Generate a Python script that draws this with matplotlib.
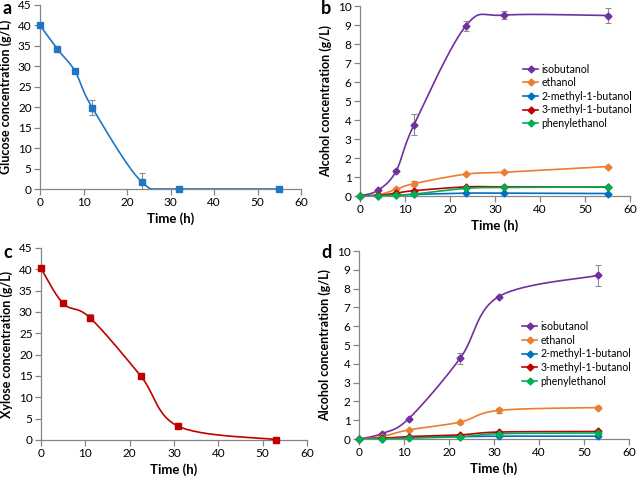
import numpy as np
import matplotlib
matplotlib.use("Agg")
import matplotlib.pyplot as plt
from matplotlib.lines import Line2D

plt.rcParams["font.family"] = ["Lato", "DejaVu Sans"]

# panel a: glucose
t_a = [0, 4, 8, 12, 23.5, 32, 55]
glucose = [40, 34.2, 28.9, 19.9, 1.6, 0, 0]
glucose_err = [0, 0, 0, 1.9, 2.2, 0, 0]

# panel b: alcohols (glucose)
iso_b = [0, 0.3, 1.3, 3.75, 8.95, 9.52, 9.5]
iso_b_err = [0, 0.05, 0.05, 0.55, 0.25, 0.2, 0.42]
eth_b = [0, 0.05, 0.35, 0.65, 1.15, 1.25, 1.55]
eth_b_err = [0, 0, 0.05, 0.12, 0.05, 0.05, 0.05]
m2_b = [0, 0.02, 0.05, 0.08, 0.15, 0.15, 0.13]
m3_b = [0, 0.03, 0.15, 0.28, 0.48, 0.48, 0.47]
phe_b = [0, 0.01, 0.05, 0.1, 0.4, 0.45, 0.48]

# panel c: xylose
t_c = [0, 5, 11, 22.5, 31, 53]
xylose = [40.2, 32, 28.7, 15, 3.2, 0.1]
xylose_err = [0.5, 0.3, 0.8, 0.5, 0.3, 0.2]

# panel d: alcohols (xylose)
iso_d = [0, 0.28, 1.07, 4.3, 7.57, 8.7]
iso_d_err = [0, 0.05, 0.05, 0.3, 0.05, 0.55]
eth_d = [0, 0.12, 0.48, 0.9, 1.52, 1.67]
eth_d_err = [0, 0, 0.05, 0.08, 0.12, 0.08]
m2_d = [0, 0.02, 0.08, 0.12, 0.15, 0.15]
m3_d = [0, 0.04, 0.13, 0.22, 0.37, 0.4]
phe_d = [0, 0.01, 0.05, 0.12, 0.28, 0.32]

names = ["isobutanol", "ethanol", "2-methyl-1-butanol", "3-methyl-1-butanol", "phenylethanol"]
colors = ["#7030A0", "#ED7D31", "#0070C0", "#C00000", "#00B050"]


def smooth(x, y, n=30):
    # Catmull-Rom style smoothing, like a spreadsheet "smoothed line"
    p = np.column_stack([x, y]).astype(float)
    p = np.vstack([p[0], p, p[-1]])
    out = []
    for i in range(1, len(p) - 2):
        p0, p1, p2, p3 = p[i - 1], p[i], p[i + 1], p[i + 2]
        c1 = p1 + (p2 - p0) / 6
        c2 = p2 - (p3 - p1) / 6
        s = np.linspace(0, 1, n)[:, None]
        seg = ((1 - s) ** 3) * p1 + 3 * ((1 - s) ** 2) * s * c1 + 3 * (1 - s) * s ** 2 * c2 + s ** 3 * p2
        out.append(seg)
    out = np.vstack(out)
    return out[:, 0], out[:, 1]


def style(ax, ymax, ystep, ylabel):
    ax.set_xlim(0, 60)
    ax.set_ylim(0, ymax)
    ax.set_xticks(np.arange(0, 61, 10))
    ax.set_yticks(np.arange(0, ymax + 0.01, ystep))
    for s in ["top", "right"]:
        ax.spines[s].set_visible(False)
    for s in ["left", "bottom"]:
        ax.spines[s].set_color("#868686")
        ax.spines[s].set_linewidth(0.9)
    ax.tick_params(direction="out", length=4, width=0.9, color="#868686",
                   labelsize=8.5, pad=2)
    ax.set_xlabel("Time (h)", fontsize=9.5, fontweight="bold", labelpad=3)
    ax.set_ylabel(ylabel, fontsize=9, fontweight="bold", labelpad=4)


def series(ax, t, y, err, color, marker, ms, clip=False):
    sx, sy = smooth(t, y)
    if clip:
        sy = np.clip(sy, 0, None)
    ax.plot(sx, sy, color=color, lw=1.2, zorder=3)
    ax.plot(t, y, ls="none", marker=marker, color=color, ms=ms, zorder=4, clip_on=False)
    if err is not None:
        ax.errorbar(t, y, yerr=err, fmt="none", ecolor="#8c8c8c", elinewidth=0.8,
                    capsize=2, capthick=0.8, zorder=2)


fig = plt.figure(figsize=(6.37, 4.79), dpi=100)
W, H = 637, 479


def add_ax(l, r, t, b):
    return fig.add_axes([l / W, 1 - b / H, (r - l) / W, (b - t) / H])


def letter(x, y, s):
    fig.text(x / W, 1 - y / H, s, fontsize=13, fontweight="bold", va="center", ha="left")


def legend(ax, y_anchor):
    handles = [Line2D([0], [0], color=c, lw=1.2, marker="D", ms=3.5) for c in colors]
    ax.legend(handles, names, loc="upper left", bbox_to_anchor=(0.585, y_anchor),
              frameon=False, fontsize=7.6, handlelength=1.4, handletextpad=0.3,
              labelspacing=0.25, borderpad=0)


# a
ax = add_ax(40, 301, 5, 189)
series(ax, t_a, glucose, glucose_err, "#1F77C4", "s", 4.5, clip=True)
style(ax, 45, 5, "Glucose concentration (g/L)")
letter(3, 9, "a")

# b
ax = add_ax(360, 630, 6, 196)
for yv, err, c in zip([iso_b, eth_b, m2_b, m3_b, phe_b],
                      [iso_b_err, eth_b_err, None, None, None], colors):
    series(ax, t_a, yv, err, c, "D", 3.5)
style(ax, 10, 1, "Alcohol concentration (g/L)")
letter(321, 9, "b")
legend(ax, 0.725)

# c
ax = add_ax(41, 307, 248, 440)
series(ax, t_c, xylose, xylose_err, "#C00000", "s", 4.5)
style(ax, 45, 5, "Xylose concentration (g/L)")
letter(3, 252, "c")

# d
ax = add_ax(359, 629, 251, 439)
for yv, err, c in zip([iso_d, eth_d, m2_d, m3_d, phe_d],
                      [iso_d_err, eth_d_err, None, None, None], colors):
    series(ax, t_c, yv, err, c, "D", 3.5)
style(ax, 10, 1, "Alcohol concentration (g/L)")
letter(321, 252, "d")
legend(ax, 0.655)

fig.savefig("out.png", dpi=100)
